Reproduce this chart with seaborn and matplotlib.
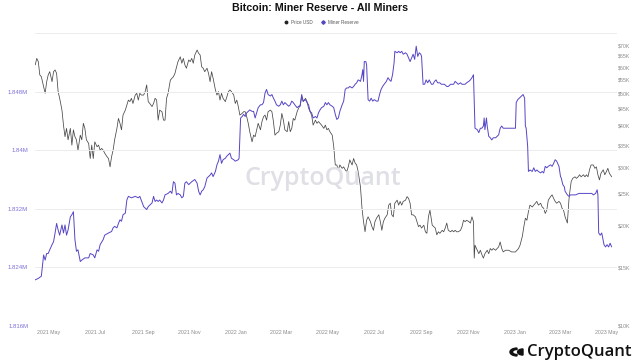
import matplotlib
matplotlib.use("Agg")
import matplotlib.pyplot as plt
import matplotlib.ticker as mticker
from matplotlib.lines import Line2D
from matplotlib.patches import Wedge
import seaborn as sns
import pandas as pd
import numpy as np

START = "2021-05-01"

# Price USD (thousands), days offset from START
price_days = [-18,-16,-14,-12,-10,-7,-5,-3,-1,1,4,6,8,10,12,14,17,19,21,23,25,28,30,32,34,36,38,41,43,45,
              47,49,52,54,56,58,60,63,65,67,69,71,73,76,78,80,82,84,86,89,91,93,95,97,100,102,104,106,108,110,
              113,115,117,119,121,124,126,128,130,132,135,137,139,141,143,145,148,150,152,154,156,159,161,163,165,167,169,172,
              174,176,178,180,183,185,187,189,191,194,196,198,200,202,204,207,209,211,213,215,218,220,222,224,226,228,
              231,233,235,237,239,242,244,246,248,250,253,255,257,259,261,263,266,268,270,272,274,277,279,281,283,285,
              287,290,292,294,296,298,301,303,305,307,309,312,314,316,318,320,322,325,327,329,331,333,336,338,340,342,
              344,346,349,351,353,355,357,360,362,364,366,368,371,373,375,377,379,381,384,386,388,390,392,394,397,399,
              401,403,405,408,410,412,414,416,418,421,423,425,427,429,432,434,436,438,440,443,445,447,449,451,453,456,
              458,460,462,464,467,469,471,473,475,477,480,482,484,486,488,491,493,495,497,499,502,504,506,508,510,512,
              515,517,519,521,523,526,528,530,532,534,536,539,541,543,545,547,550,552,554,556,557,558,561,563,565,567,
              569,571,574,576,578,580,582,585,587,589,591,593,595,598,602,606,611,613,615,617,620,622,624,626,628,630,
              633,635,637,639,641,644,646,648,650,652,654,657,659,661,663,665,668,670,672,674,676,679,681,682,684,686,
              689,691,693,695,697,700,702,704,706,708,710,713,715,717,719,721,723,726,728,730,732,734,737]
price_k = [61.0,63.8,62.4,56.9,56.2,52.4,50.1,54.3,56.9,58.2,54.3,58.2,58.9,57.5,50.7,48.4,44.6,40.2,37.1,39.3,36.3,39.3,35.0,38.9,37.1,36.3,33.8,37.5,36.3,40.7,
           39.3,36.3,35.4,31.9,35.0,31.9,35.8,34.6,35.0,33.8,34.2,33.8,33.1,32.3,31.9,30.1,32.3,33.8,36.3,39.3,42.1,40.7,38.9,43.1,44.6,46.2,47.8,47.3,48.4,46.7,
           49.5,50.1,47.8,50.1,49.5,49.5,50.7,53.1,47.3,46.7,45.7,46.7,48.4,47.8,41.6,44.6,44.1,41.6,41.6,48.4,50.1,54.9,55.6,56.2,57.5,60.0,62.4,64.5,
           61.7,63.8,61.0,59.6,63.1,62.4,63.8,61.7,65.3,67.6,66.1,65.3,60.2,59.6,58.2,59.6,57.5,54.3,58.2,55.6,51.3,49.5,50.7,47.8,50.1,48.4,
           47.3,48.9,50.7,51.3,50.7,49.5,46.7,47.8,45.7,43.1,43.6,44.1,44.1,42.6,40.7,38.4,35.8,37.5,37.1,38.9,40.7,38.9,41.2,42.6,43.1,41.6,
           44.1,44.6,44.1,41.2,37.5,38.0,38.4,40.2,43.6,41.6,38.9,38.4,41.2,38.4,39.3,42.1,41.6,44.1,45.2,46.2,48.9,47.3,48.4,47.3,45.2,44.1,
           43.1,40.2,41.6,40.7,41.2,40.7,40.2,39.3,40.2,38.9,39.3,38.4,37.5,34.6,30.5,30.5,29.5,30.5,29.8,30.1,29.5,29.1,30.1,31.6,30.5,31.9,
           30.9,30.5,29.1,26.2,22.6,20.6,19.2,20.8,21.3,20.6,19.9,19.4,20.6,21.1,21.6,20.6,19.4,20.6,21.1,21.6,23.1,23.4,21.6,21.3,23.4,23.9,
           23.1,23.7,23.1,23.7,23.9,24.5,24.2,23.4,21.6,21.6,21.3,20.6,19.9,20.1,19.7,20.1,19.2,19.0,21.3,22.3,20.1,19.9,19.7,18.8,19.2,19.0,
           19.4,19.2,19.7,20.4,19.4,19.2,19.4,19.2,19.4,19.2,19.2,19.4,19.9,20.8,20.6,20.8,20.6,20.4,21.3,20.6,16.0,17.5,16.9,16.5,16.9,16.4,
           16.0,16.5,16.9,16.5,17.1,16.9,17.1,16.9,17.1,17.3,17.9,17.1,16.7,16.9,16.9,16.7,16.7,16.9,17.1,17.5,18.6,19.9,21.1,20.8,22.1,23.1,
           22.8,23.1,23.4,23.7,23.1,23.4,22.8,22.6,21.8,22.3,23.9,24.5,24.8,24.2,23.7,23.4,23.7,23.4,22.6,22.3,21.3,20.4,23.9,25.1,27.2,27.8,
           28.1,27.8,28.1,28.5,28.1,28.5,28.1,28.5,28.1,29.5,30.5,30.5,29.8,30.1,28.5,27.5,28.8,29.5,28.5,29.1,29.8,28.8,28.1]

# Miner reserve (million BTC), days offset from START
reserve_days = [-18,-14,-10,-7,-5,-3,-1,1,4,6,8,10,12,14,17,19,21,23,25,28,30,32,34,36,38,41,43,47,52,54,
                58,60,63,65,67,71,73,78,82,84,86,89,91,93,95,97,100,102,104,108,113,117,119,124,126,128,130,132,135,137,
                139,141,143,145,148,150,152,156,159,161,163,165,167,169,172,174,176,178,180,183,187,191,194,196,198,200,202,204,207,209,
                211,213,215,218,220,222,224,226,228,231,233,235,237,239,242,244,248,249,251,253,255,257,259,261,263,266,268,270,272,274,
                277,279,281,283,285,287,290,292,294,296,298,301,303,305,307,309,312,314,316,318,320,322,325,327,329,331,333,336,338,340,
                342,344,346,349,351,353,355,357,360,362,364,366,368,371,373,375,377,379,381,384,386,388,390,392,394,397,399,401,403,405,
                408,410,411,412,413,415,416,418,420,422,424,426,429,431,433,435,437,439,442,444,446,448,450,452,453,456,458,460,462,464,
                467,469,471,473,475,477,479,481,483,485,487,488,490,492,494,496,498,501,503,505,507,509,512,514,518,521,523,526,530,532,
                534,536,539,541,543,545,547,550,552,554,556,557,558,561,563,565,567,569,570,571,573,574,576,578,580,582,585,587,589,591,
                593,595,600,604,609,611,612,614,616,619,621,623,624,625,627,628,630,633,635,637,639,641,644,646,648,650,652,654,657,659,
                661,663,665,668,670,671,673,675,676,679,681,683,690,694,698,702,707,711,713,716,718,719,720,722,724,727,729,731,733,735,737]
reserve_m = [1.8223,1.8225,1.8228,1.8257,1.8250,1.8259,1.8259,1.8264,1.8271,1.8275,1.8287,1.8300,1.8291,1.8284,1.8298,1.8287,1.8298,1.8284,1.8291,1.8309,1.8312,1.8316,1.8278,1.8262,1.8264,1.8248,1.8250,1.8253,1.8253,1.8259,
             1.8257,1.8253,1.8264,1.8262,1.8271,1.8278,1.8284,1.8287,1.8289,1.8294,1.8296,1.8294,1.8300,1.8305,1.8303,1.8312,1.8314,1.8332,1.8337,1.8335,1.8337,1.8335,1.8337,1.8323,1.8321,1.8319,1.8323,1.8325,1.8328,1.8337,
             1.8330,1.8332,1.8330,1.8332,1.8328,1.8332,1.8339,1.8341,1.8344,1.8341,1.8357,1.8355,1.8339,1.8341,1.8339,1.8335,1.8337,1.8355,1.8357,1.8353,1.8357,1.8360,1.8355,1.8344,1.8339,1.8344,1.8346,1.8350,1.8362,1.8364,
             1.8366,1.8369,1.8364,1.8371,1.8380,1.8385,1.8394,1.8382,1.8387,1.8389,1.8392,1.8394,1.8396,1.8389,1.8387,1.8385,1.8387,1.8389,1.8444,1.8446,1.8449,1.8446,1.8451,1.8453,1.8455,1.8453,1.8453,1.8444,1.8451,1.8458,
             1.8462,1.8462,1.8465,1.8478,1.8483,1.8476,1.8474,1.8476,1.8471,1.8467,1.8462,1.8460,1.8462,1.8467,1.8462,1.8465,1.8462,1.8460,1.8462,1.8467,1.8465,1.8462,1.8458,1.8460,1.8460,1.8476,1.8467,1.8469,1.8465,1.8462,
             1.8453,1.8451,1.8444,1.8446,1.8444,1.8451,1.8455,1.8458,1.8460,1.8465,1.8462,1.8465,1.8462,1.8460,1.8458,1.8449,1.8442,1.8444,1.8453,1.8462,1.8467,1.8483,1.8485,1.8485,1.8487,1.8485,1.8487,1.8490,1.8492,1.8496,
             1.8494,1.8503,1.8510,1.8494,1.8521,1.8521,1.8517,1.8469,1.8467,1.8471,1.8467,1.8469,1.8467,1.8467,1.8476,1.8483,1.8487,1.8490,1.8494,1.8499,1.8496,1.8494,1.8503,1.8519,1.8535,1.8533,1.8535,1.8533,1.8535,1.8531,
             1.8533,1.8531,1.8526,1.8521,1.8526,1.8531,1.8524,1.8542,1.8528,1.8533,1.8531,1.8528,1.8490,1.8490,1.8496,1.8492,1.8496,1.8490,1.8490,1.8494,1.8496,1.8492,1.8492,1.8490,1.8490,1.8487,1.8487,1.8490,1.8490,1.8494,
             1.8492,1.8490,1.8492,1.8490,1.8490,1.8490,1.8492,1.8494,1.8496,1.8499,1.8503,1.8465,1.8430,1.8428,1.8424,1.8430,1.8430,1.8433,1.8444,1.8428,1.8444,1.8433,1.8419,1.8417,1.8414,1.8417,1.8417,1.8419,1.8421,1.8430,
             1.8433,1.8430,1.8430,1.8430,1.8430,1.8430,1.8465,1.8469,1.8471,1.8474,1.8476,1.8471,1.8433,1.8430,1.8405,1.8371,1.8373,1.8371,1.8376,1.8371,1.8373,1.8371,1.8369,1.8371,1.8369,1.8378,1.8376,1.8378,1.8380,1.8378,
             1.8382,1.8387,1.8385,1.8378,1.8364,1.8362,1.8353,1.8350,1.8344,1.8339,1.8337,1.8339,1.8339,1.8341,1.8341,1.8341,1.8341,1.8341,1.8339,1.8341,1.8346,1.8339,1.8287,1.8284,1.8287,1.8271,1.8268,1.8271,1.8268,1.8273,1.8268]

x_tick_labels = ["2021 May", "2021 Jul", "2021 Sep", "2021 Nov", "2022 Jan", "2022 Mar", "2022 May",
                 "2022 Jul", "2022 Sep", "2022 Nov", "2023 Jan", "2023 Mar", "2023 May"]
left_ticks = [1.816, 1.824, 1.832, 1.840, 1.848, 1.856]
left_labels = ["1.816M", "1.824M", "1.832M", "1.84M", "1.848M", ""]
right_ticks = [10, 15, 20, 25, 30, 35, 40, 45, 50, 55, 60, 65, 70]

assert len(price_days) == len(price_k), (len(price_days), len(price_k))
assert len(reserve_days) == len(reserve_m), (len(reserve_days), len(reserve_m))

start = pd.Timestamp(START)
price_df = pd.DataFrame({"date": start + pd.to_timedelta(price_days, unit="D"), "price": price_k})
res_df = pd.DataFrame({"date": start + pd.to_timedelta(reserve_days, unit="D"), "reserve": reserve_m})

sns.set_theme(style="white")
plt.rcParams["font.family"] = ["Liberation Sans", "DejaVu Sans"]

PRICE_C = "#474747"
RES_C = "#5546c6"
LEFT_LBL_C = "#7d72d9"
GRID_C = "#ececec"
TICK_C = "#8a8a8a"

fig = plt.figure(figsize=(6.4, 3.6), dpi=100)
ax = fig.add_axes([35/640, 1-326/360, (617-35)/640, (326-33)/360])
ax2 = ax.twinx()

# price on right (log) axis
sns.lineplot(data=price_df, x="date", y="price", ax=ax2, color=PRICE_C, linewidth=0.55, legend=False)
ax2.set_yscale("log")
ax2.set_ylim(10, 10*np.exp(293/144.4))
ax2.yaxis.set_major_locator(mticker.FixedLocator(right_ticks))
ax2.yaxis.set_minor_locator(mticker.NullLocator())
ax2.set_yticklabels([f"${v}K" for v in right_ticks])
ax2.tick_params(axis="y", length=0, labelsize=3.8, colors=TICK_C, pad=0.5)

# reserve on left axis
ax.set_zorder(ax2.get_zorder()+1)
ax.patch.set_visible(False)
sns.lineplot(data=res_df, x="date", y="reserve", ax=ax, color=RES_C, linewidth=0.7, legend=False)
ax.set_ylim(1.816, 1.856)
ax.set_yticks(left_ticks)
ax.set_yticklabels(left_labels)
ax.tick_params(axis="y", length=0, labelsize=4.3, colors=LEFT_LBL_C, pad=5)
ax.grid(axis="y", color=GRID_C, linewidth=0.7)
ax.set_axisbelow(True)

xt = pd.date_range("2021-05-01", "2023-05-01", freq="2MS")
ax.set_xticks(xt)
ax.set_xticklabels(x_tick_labels)
ax.tick_params(axis="x", length=0, labelsize=3.8, colors=TICK_C, pad=3)
ax.set_xlim(start + pd.Timedelta(days=-18.3), start + pd.Timedelta(days=744))
ax2.set_xlim(ax.get_xlim())

for a in (ax, ax2):
    a.set_xlabel("")
    a.set_ylabel("")
    for s in a.spines.values():
        s.set_visible(False)

# watermark
ax.text(0.495, 0.505, "CryptoQuant", transform=ax.transAxes, ha="center", va="center",
        fontsize=18, fontweight="semibold", color="#dfdfe6", family=["Open Sans", "DejaVu Sans"], zorder=0)

# title
fig.text(0.5, 0.992, "Bitcoin: Miner Reserve - All Miners", ha="center", va="top",
         fontsize=7.7, fontweight="bold", color="#111111")

# legend
handles = [Line2D([], [], color="#222222", marker="o", markersize=1.8, linestyle="none"),
           Line2D([], [], color=RES_C, marker="D", markersize=1.8, linestyle="none")]
fig.legend(handles, ["Price USD", "Miner Reserve"], loc="center", bbox_to_anchor=(0.5, 1-22/360),
           ncol=2, frameon=False, fontsize=3.3, handletextpad=0.1, columnspacing=1.2,
           labelcolor="#555555")

# bottom right logo
fig.text(631/640, 1-352/360, "CryptoQuant", ha="right", va="center", fontsize=12,
         fontweight="semibold", color="#111111", family=["Open Sans", "DejaVu Sans"])
fig.add_artist(Wedge((517/640, 1-352/360), 0.011, 90, 270, width=0.004,
                     transform=fig.transFigure, color="#111111"))
fig.add_artist(Wedge((523/640, 1-352/360), 0.0085, 90, 270,
                     transform=fig.transFigure, color="#111111"))

fig.savefig("out.png", dpi=100)
